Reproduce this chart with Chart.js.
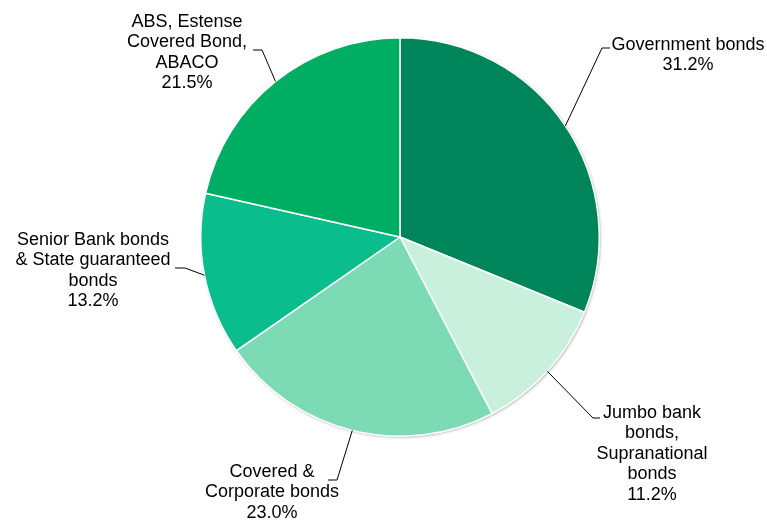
<!DOCTYPE html>
<html>
<head>
<meta charset="utf-8">
<script src="https://cdn.jsdelivr.net/npm/chart.js@4/dist/chart.umd.min.js"></script>
<style>
  html, body { margin: 0; padding: 0; background: #fff; }
  #wrap { width: 767px; height: 520px; }
</style>
</head>
<body>
<div id="wrap"><canvas id="pieChart" width="767" height="520"></canvas></div>
<script>
// Categories and values
const categories = [
    ['Government bonds'],
    ['Jumbo bank', 'bonds,', 'Supranational', 'bonds'],
    ['Covered &', 'Corporate bonds'],
    ['Senior Bank bonds', '& State guaranteed', 'bonds'],
    ['ABS, Estense', 'Covered Bond,', 'ABACO']
];
const shares = [31.2, 11.2, 23.0, 13.2, 21.5];
const sliceColors = ['#00855b', '#c9f0dd', '#7cdbb5', '#0abd8d', '#00ae63'];

// Where each label sits: elbow of leader line, end of leader, text centre x, first line centre y
const labelLayout = [
    { elbow: [602, 48], end: [610, 48], textX: 688, textY: 45 },
    { elbow: [593, 418], end: [600, 418], textX: 652, textY: 413 },
    { elbow: [337, 480], end: [328, 480], textX: 272, textY: 472 },
    { elbow: [185, 268], end: [175, 268], textX: 93, textY: 240 },
    { elbow: [262, 50], end: [253, 50], textX: 187, textY: 22 }
];
const lineStep = 20.5;

// Light shadow round the outside of the pie only
const shadowPlugin = {
    id: 'shadowPlugin',
    beforeDatasetsDraw(chart) {
        const arc = chart.getDatasetMeta(0).data[0];
        if (!arc) return;
        const ctx = chart.ctx;
        ctx.save();
        ctx.shadowColor = 'rgba(0,0,0,0.35)';
        ctx.shadowBlur = 3;
        ctx.shadowOffsetX = 1;
        ctx.shadowOffsetY = 1;
        ctx.fillStyle = '#ffffff';
        ctx.beginPath();
        ctx.arc(arc.x, arc.y, arc.outerRadius, 0, Math.PI * 2);
        ctx.fill();
        ctx.restore();
    }
};

// Leader lines and labels
const labelPlugin = {
    id: 'labelPlugin',
    afterDraw(chart) {
        const ctx = chart.ctx;
        const meta = chart.getDatasetMeta(0);
        ctx.save();
        ctx.strokeStyle = '#000';
        ctx.lineWidth = 1;
        ctx.fillStyle = '#000';
        ctx.font = '18px "Liberation Sans", Arial, sans-serif';
        ctx.textAlign = 'center';
        ctx.textBaseline = 'middle';
        meta.data.forEach((arc, i) => {
            const mid = (arc.startAngle + arc.endAngle) / 2;
            const sx = arc.x + Math.cos(mid) * arc.outerRadius;
            const sy = arc.y + Math.sin(mid) * arc.outerRadius;
            const lay = labelLayout[i];
            ctx.beginPath();
            ctx.moveTo(sx, sy);
            ctx.lineTo(lay.elbow[0], lay.elbow[1]);
            ctx.lineTo(lay.end[0], lay.end[1]);
            ctx.stroke();
            const lines = categories[i].concat([shares[i].toFixed(1) + '%']);
            lines.forEach((txt, j) => {
                ctx.fillText(txt, lay.textX, lay.textY + j * lineStep);
            });
        });
        ctx.restore();
    }
};

const ctx = document.getElementById('pieChart').getContext('2d');
new Chart(ctx, {
    type: 'pie',
    data: {
        labels: categories.map(c => c.join(' ')),
        datasets: [{
            data: shares,
            backgroundColor: sliceColors,
            borderColor: '#ffffff',
            borderWidth: 1.5
        }]
    },
    options: {
        responsive: false,
        animation: false,
        devicePixelRatio: 1,
        layout: { padding: { top: 37, bottom: 83, left: 200, right: 167 } },
        plugins: {
            legend: { display: false },
            tooltip: { enabled: false }
        }
    },
    plugins: [shadowPlugin, labelPlugin]
});
</script>
</body>
</html>
